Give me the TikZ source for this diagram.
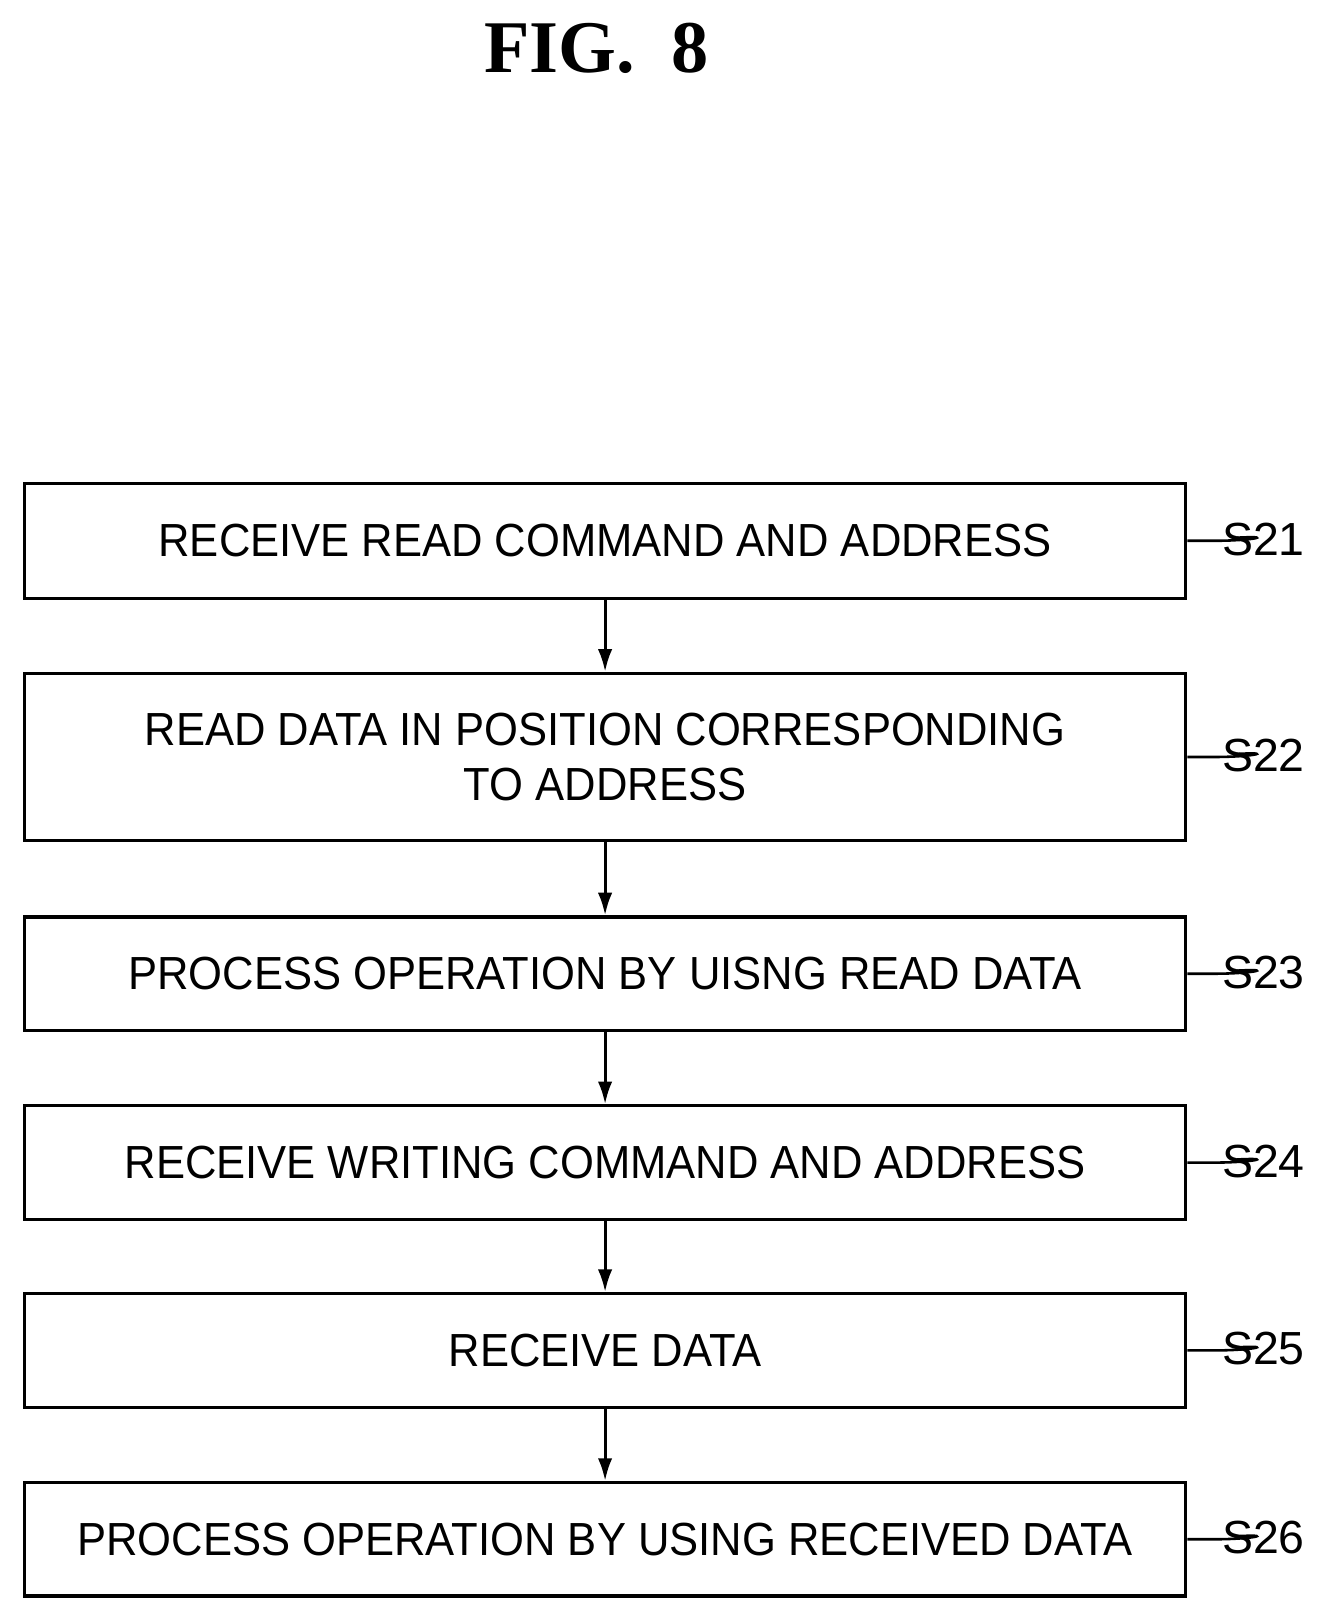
\documentclass[tikz,border=0pt]{standalone}
\usepackage{fontspec}
\setmainfont{Liberation Sans}
\newfontfamily\titlefont{Liberation Serif}
\usetikzlibrary{arrows.meta}
\begin{document}
\begin{tikzpicture}[x=1pt,y=-1pt,
  box/.style={draw,line width=3pt,minimum width=1071pt,anchor=north west,inner sep=0pt,align=center,font=\fontsize{45}{54}\selectfont},
  lbl/.style={font=\fontsize{45}{50}\selectfont,anchor=west,inner sep=0pt},
  arr/.style={line width=3pt,-{Latex[length=22pt,width=14pt]}}]
\useasboundingbox (0,0) rectangle (1280,1570.7);
\node[font=\titlefont\bfseries\fontsize{72}{80}\selectfont] (t) at (578,47) {FIG.\ \ 8};
\foreach \n/\y/\h/\t in {1/467/111/RECEIVE READ COMMAND AND ADDRESS,
  2/651/162/{READ DATA IN POSITION CORRESPONDING\\TO ADDRESS},
  3/887/110/PROCESS OPERATION BY UISNG READ DATA,
  4/1070/110/RECEIVE WRITING COMMAND AND ADDRESS,
  5/1252/110/RECEIVE DATA,
  6/1435/110/PROCESS OPERATION BY USING RECEIVED DATA}{
  \node[box,minimum height=\h pt] (b\n) at (22,\y) {\scalebox{0.938}[1]{\parbox{1200pt}{\centering\t}}};
  \node[lbl] (l\n) at (1184,\y+\h/2) {S2\n};
  \draw[line width=2.5pt] (b\n.east) -- +(26,0) .. controls +(36,0) and +(38,-2) .. +(48,-3);
}
\foreach \a/\b in {1/2,2/3,3/4,4/5,5/6}{\draw[arr] (b\a) -- (b\b);}
\end{tikzpicture}
\end{document}
